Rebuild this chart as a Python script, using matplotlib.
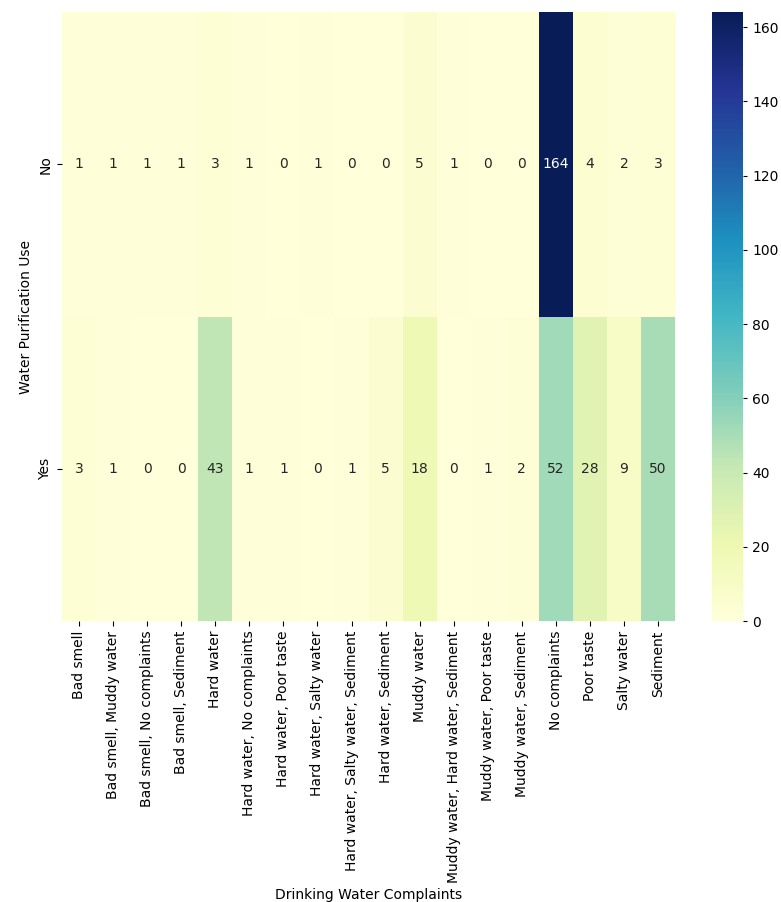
import numpy as np
import pandas as pd
import seaborn as sns
import matplotlib
matplotlib.use("Agg")
import matplotlib.pyplot as plt

complaints = [
    "Bad smell", "Bad smell, Muddy water", "Bad smell, No complaints",
    "Bad smell, Sediment", "Hard water", "Hard water, No complaints",
    "Hard water, Poor taste", "Hard water, Salty water",
    "Hard water, Salty water, Sediment", "Hard water, Sediment",
    "Muddy water", "Muddy water, Hard water, Sediment",
    "Muddy water, Poor taste", "Muddy water, Sediment",
    "No complaints", "Poor taste", "Salty water", "Sediment",
]
purification = ["No", "Yes"]
counts_no = [1, 1, 1, 1, 3, 1, 0, 1, 0, 0, 5, 1, 0, 0, 164, 4, 2, 3]
counts_yes = [3, 1, 0, 0, 43, 1, 1, 0, 1, 5, 18, 0, 1, 2, 52, 28, 9, 50]

table = pd.DataFrame([counts_no, counts_yes], index=purification, columns=complaints)

fig = plt.figure(figsize=(7.81, 9.02), dpi=100)
ax = fig.add_axes([0.0794, 0.3115, 0.785, 0.675])
cax = fig.add_axes([0.9117, 0.3115, 0.0397, 0.675])

sns.heatmap(table, annot=True, fmt="d", cmap="YlGnBu", ax=ax, cbar_ax=cax)
cax.tick_params(length=3)
cax.set_frame_on(False)

ax.set_xlabel("Drinking Water Complaints")
ax.set_ylabel("Water Purification Use")

fig.savefig("out.png", dpi=100)
